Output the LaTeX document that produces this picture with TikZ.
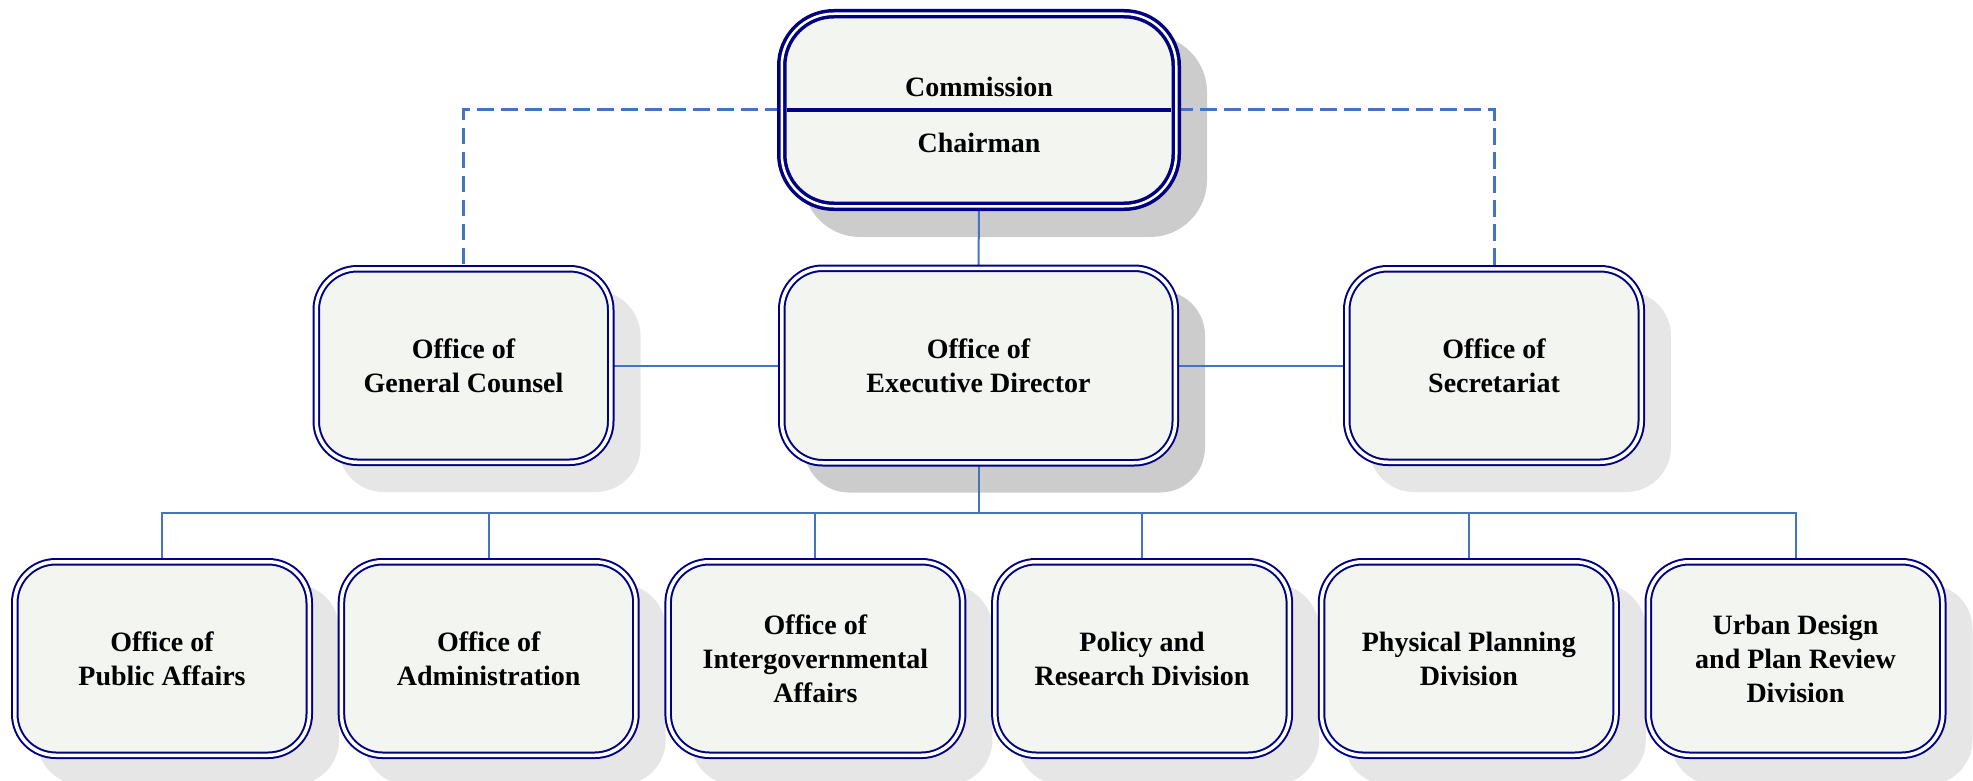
\documentclass[tikz,border=0pt]{standalone}
\usepackage{fontspec}
\setmainfont{Liberation Serif}
\pgfdeclarelayer{shadowlayer}
\pgfdeclarelayer{connlayer}
\pgfsetlayers{shadowlayer,connlayer,main}
\definecolor{navyline}{HTML}{000080}
\definecolor{boxfill}{HTML}{F3F5F0}
\definecolor{connblue}{HTML}{4472C4}
\definecolor{shadowdark}{HTML}{CCCCCC}
\definecolor{shadowlight}{HTML}{E6E6E6}
\tikzset{
  orgbox/.style={draw=navyline, line width=2pt, double=white, double distance=3.5pt,
    fill=boxfill, rounded corners=41pt, minimum width=294.5pt, minimum height=193.5pt,
    inner sep=0pt, outer sep=0pt, align=center,
    font=\fontsize{28}{34}\selectfont\bfseries},
  topbox/.style={orgbox, line width=3.5pt, double distance=2.5pt, rounded corners=52pt,
    minimum width=394.5pt, minimum height=192.5pt},
  lbl/.style={inner sep=0pt, font=\fontsize{28}{34}\selectfont\bfseries},
  conn/.style={draw=connblue, line width=2pt},
  dashconn/.style={draw=connblue, line width=3pt, dash pattern=on 16.5pt off 7.5pt},
}
\begin{document}
\begin{tikzpicture}[x=1pt,y=-1pt]
\useasboundingbox (0,0) rectangle (1973,781);
% top
\node[topbox] (top) at (979,110) {};
\node[lbl, anchor=base] (commission) at (979,97) {Commission};
\node[lbl, anchor=base] (chairman) at (979,153) {Chairman};
\draw[navyline, line width=3.5pt] ([xshift=5pt]top.west) -- ([xshift=-5pt]top.east);
% middle row
\node[orgbox] (gc) at (463.5,365.5) {Office of\\General Counsel};
\node[orgbox, minimum width=393.5pt, minimum height=194.5pt] (ed) at (978.5,365.5) {Office of\\Executive Director};
\node[orgbox] (sec) at (1494,365.5) {Office of\\Secretariat};
% bottom row
\node[orgbox] (b1) at (162,658.5) {Office of\\Public Affairs};
\node[orgbox] (b2) at (488.7,658.5) {Office of\\Administration};
\node[orgbox] (b3) at (815.4,658.5) {Office of\\Intergovernmental\\Affairs};
\node[orgbox] (b4) at (1142.1,658.5) {Policy and\\Research Division};
\node[orgbox] (b5) at (1468.8,658.5) {Physical Planning\\Division};
\node[orgbox] (b6) at (1795.5,658.5) {Urban Design\\and Plan Review\\Division};
\coordinate (bus) at (978.5,513);
% connectors
\begin{pgfonlayer}{connlayer}
\draw[conn] (top.south) -- (ed.north);
\draw[conn] (gc.east) -- (ed.west);
\draw[conn] (ed.east) -- (sec.west);
\draw[dashconn] (top.west) -| (gc.north);
\draw[dashconn] (top.east) -| (sec.north);
\draw[conn] (ed.south) -- (bus);
\draw[conn] (b1.north) -- (b1.north |- bus) -- (b6.north |- bus) -- (b6.north);
\foreach \n in {b2,b3,b4,b5} \draw[conn] (\n.north) -- (\n.north |- bus);
\end{pgfonlayer}
% shadows
\begin{pgfonlayer}{shadowlayer}
\fill[shadowdark, rounded corners=57pt] ([shift={(21.25,21.25)}]top.north west) rectangle ([shift={(30.75,30.75)}]top.south east);
\foreach \n/\c in {ed/shadowdark, gc/shadowlight, sec/shadowlight, b1/shadowlight, b2/shadowlight, b3/shadowlight, b4/shadowlight, b5/shadowlight, b6/shadowlight}
  \fill[\c, rounded corners=45pt] ([shift={(22.25,22.25)}]\n.north west) rectangle ([shift={(29.75,29.75)}]\n.south east);
\end{pgfonlayer}
\end{tikzpicture}
\end{document}
